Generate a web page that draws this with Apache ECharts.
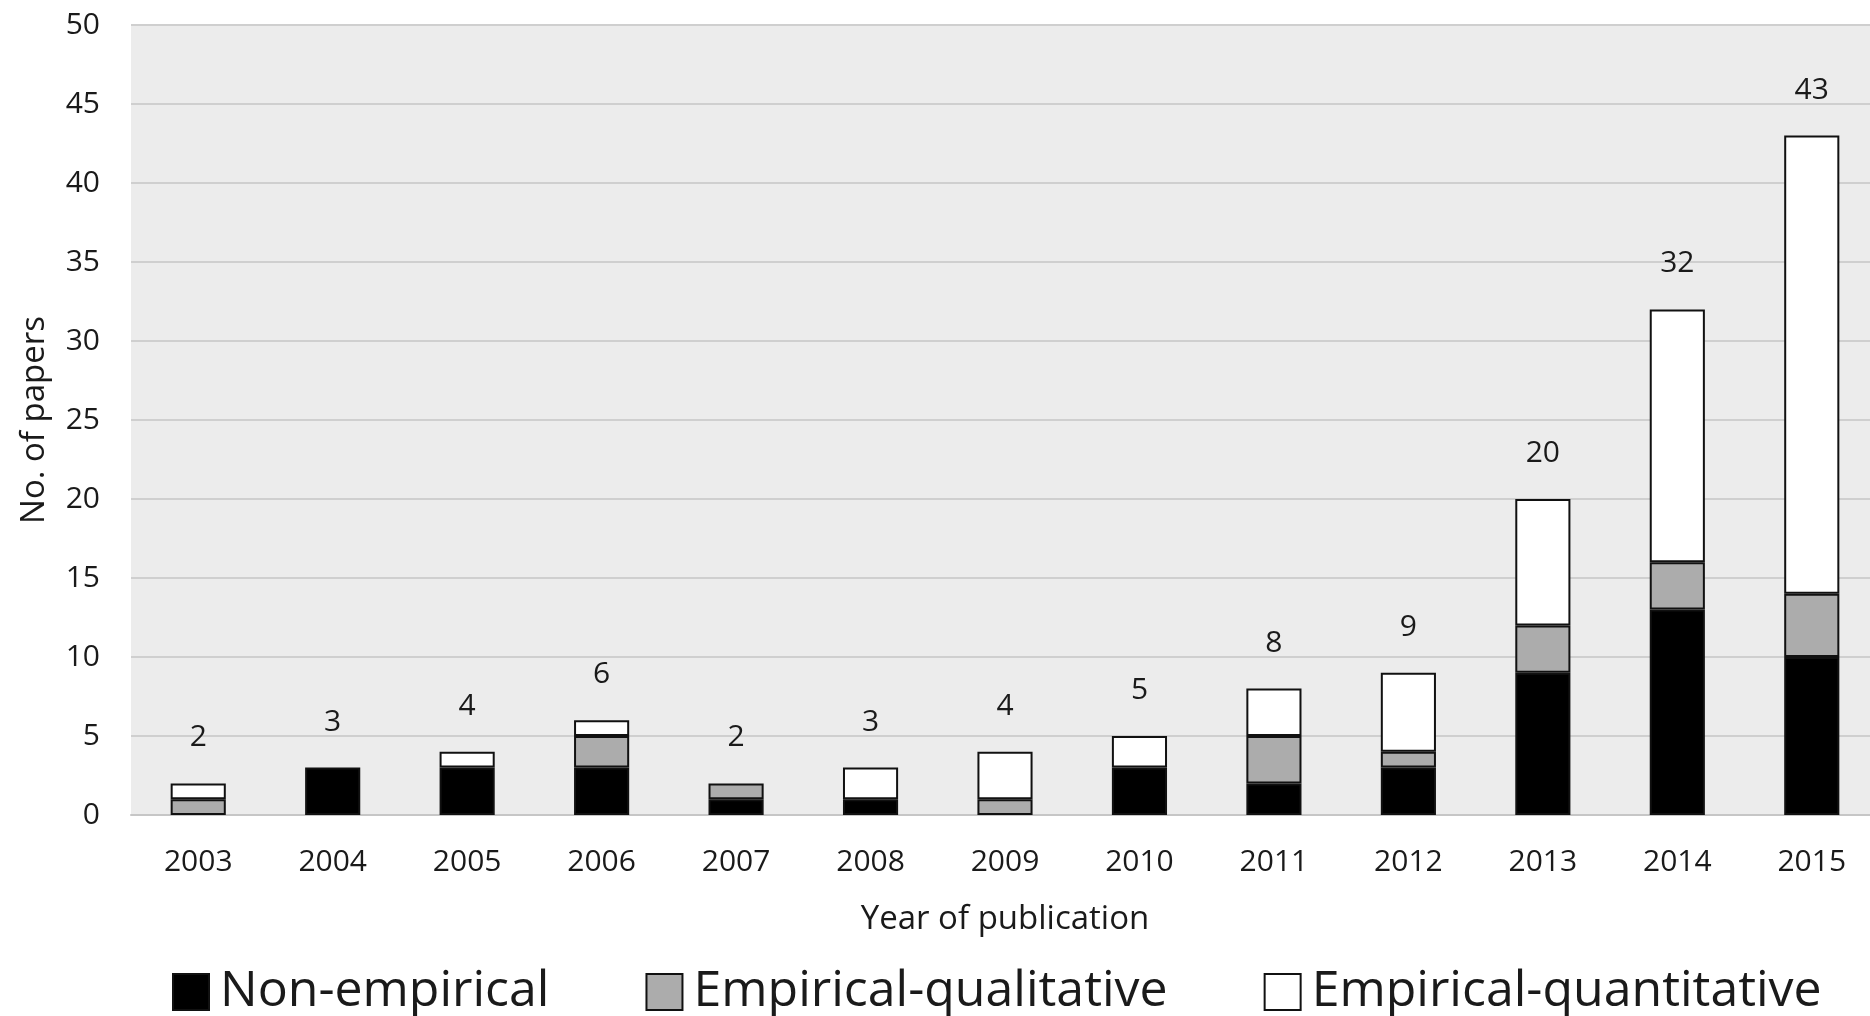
<!DOCTYPE html>
<html>
<head>
<meta charset="utf-8">
<script src="https://cdn.jsdelivr.net/npm/echarts@6/dist/echarts.min.js"></script>
<style>
html,body{margin:0;padding:0;background:#fff;overflow:hidden;width:1870px;height:1016px;}
#chart{width:1879px;height:1016px;}
</style>
</head>
<body>
<div id="chart"></div>
<script>
const years = ['2003','2004','2005','2006','2007','2008','2009','2010','2011','2012','2013','2014','2015'];
const nonEmpirical = [0,3,3,3,1,1,0,3,2,3,9,13,10];
const empiricalQualitative = [1,0,0,2,1,0,1,0,3,1,3,3,4];
const empiricalQuantitative = [1,0,1,1,0,2,3,2,3,5,8,16,29];
const totals = [2,3,4,6,2,3,4,5,8,9,20,32,43];
const yTicks = {min:0, max:50, interval:5};

const FONT = '"Open Sans", "Noto Sans", sans-serif';
const TXT = '#1a1a1a';
const noZero = arr => arr.map(v => v === 0 ? '-' : v);
const chart = echarts.init(document.getElementById('chart'));
const barBase = {
  type:'bar', stack:'total', barWidth:'41%',
  emphasis:{disabled:true}
};
chart.setOption({
  animation:false,
  backgroundColor:'#ffffff',
  grid:{left:131, right:0, top:25, bottom:201, show:true, backgroundColor:'#ececec', borderWidth:0},
  legend:{
    data:['Non-empirical','Empirical-qualitative','Empirical-quantitative'],
    left:167, top:962, itemWidth:36, itemHeight:36, itemGap:96,
    icon:'rect',
    textStyle:{fontFamily:FONT, fontSize:50, color:TXT, padding:[0,0,0,6]}
  },
  xAxis:{
    type:'category', data:years,
    axisLine:{show:true, lineStyle:{color:'#c6c6c6', width:2}},
    axisTick:{show:false},
    axisLabel:{fontFamily:FONT, fontSize:30, color:TXT, margin:32},
    name:'Year of publication', nameLocation:'middle', nameGap:88,
    nameTextStyle:{fontFamily:FONT, fontSize:33, color:TXT}
  },
  yAxis:{
    type:'value', min:yTicks.min, max:yTicks.max, interval:yTicks.interval,
    axisLine:{show:false}, axisTick:{show:false},
    splitLine:{lineStyle:{color:'#cfcfcf', width:2}},
    axisLabel:{fontFamily:FONT, fontSize:30, color:TXT, margin:31},
    name:'No. of papers', nameLocation:'middle', nameGap:80,
    nameTextStyle:{fontFamily:FONT, fontSize:33, color:TXT}
  },
  series:[
    Object.assign({}, barBase, {name:'Non-empirical', data:noZero(nonEmpirical),
      itemStyle:{color:'#000000', borderColor:'#111111', borderWidth:2}}),
    Object.assign({}, barBase, {name:'Empirical-qualitative', data:noZero(empiricalQualitative),
      itemStyle:{color:'#acacac', borderColor:'#111111', borderWidth:2}}),
    Object.assign({}, barBase, {name:'Empirical-quantitative', data:noZero(empiricalQuantitative),
      itemStyle:{color:'#ffffff', borderColor:'#111111', borderWidth:2}}),
    {
      type:'scatter', name:'Total', data:totals, symbol:'rect', symbolSize:[1,1],
      itemStyle:{color:'transparent', opacity:1}, silent:true, z:10,
      label:{show:true, position:'top', distance:30, fontFamily:FONT, fontSize:30,
        color:TXT, opacity:1, textBorderWidth:0,
        formatter:p=>String(p.value)},
      labelLayout:{hideOverlap:false}
    }
  ]
});
</script>
</body>
</html>
